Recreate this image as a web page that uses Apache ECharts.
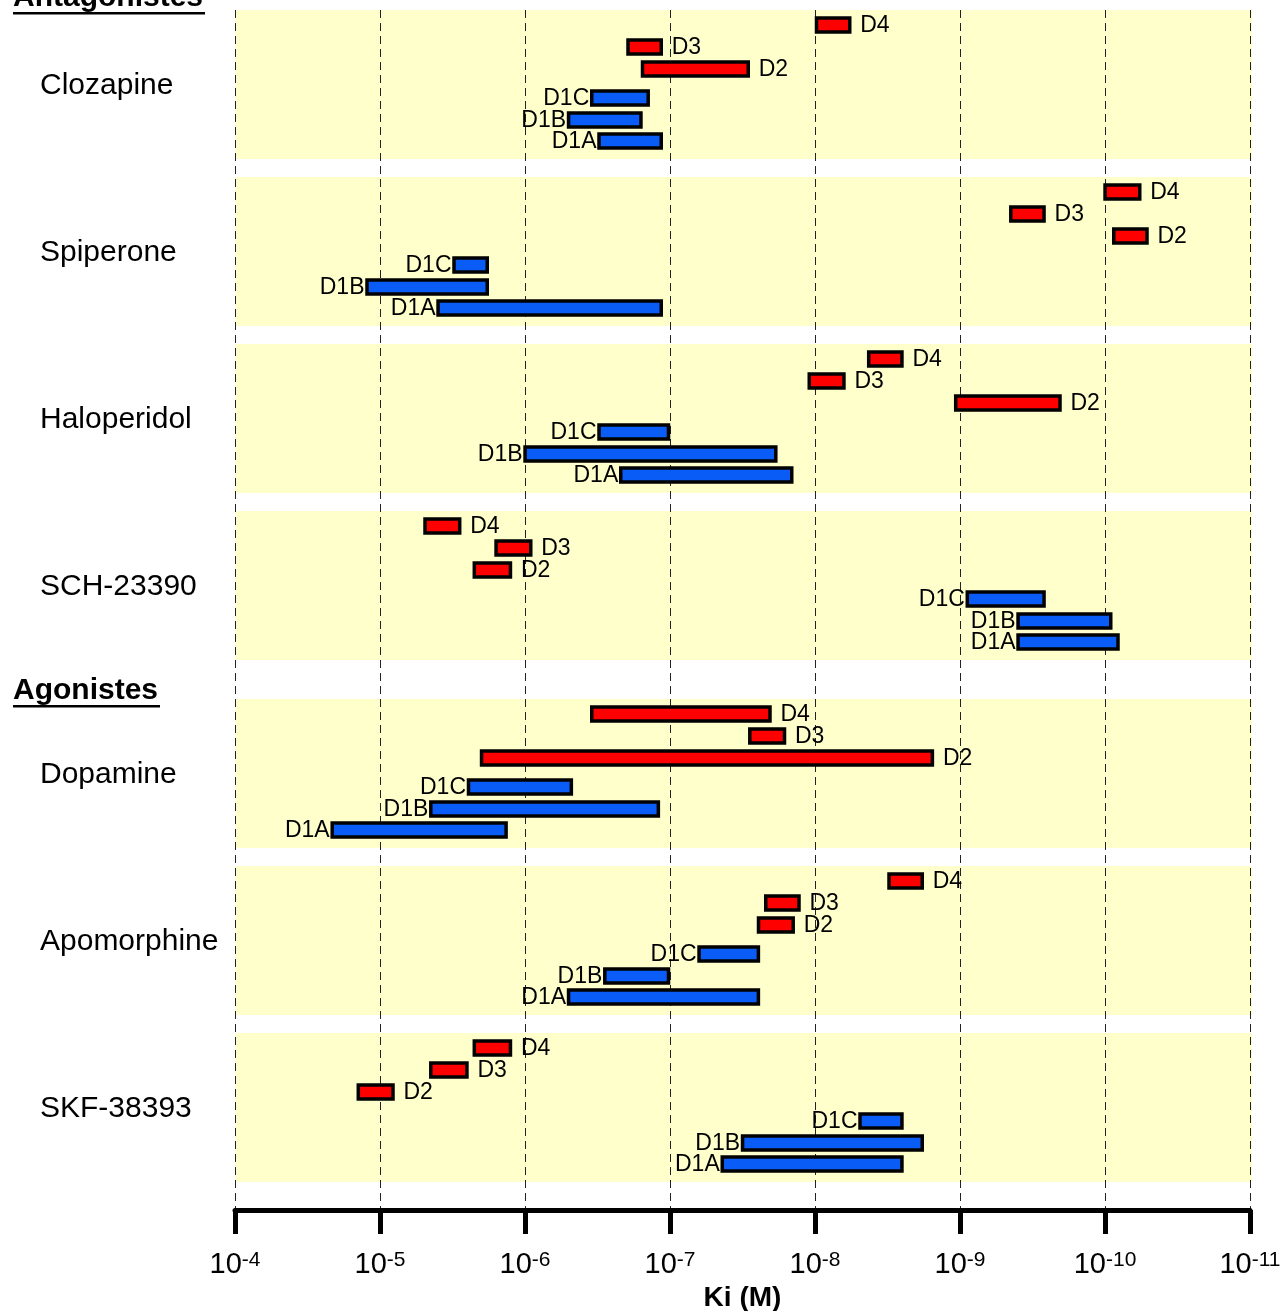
<!DOCTYPE html>
<html><head><meta charset="utf-8">
<script src="https://cdn.jsdelivr.net/npm/echarts@6/dist/echarts.min.js"></script>
<style>html,body{margin:0;padding:0;background:#fff}#c{width:1285px;height:1311px}</style>
</head><body><div id="c"></div>
<script>
// ---- data ----
const receptors = ['D4', 'D3', 'D2', 'D1C', 'D1B', 'D1A'];
const drugs = ['Clozapine', 'Spiperone', 'Haloperidol', 'SCH-23390', 'Dopamine', 'Apomorphine', 'SKF-38393'];
const groupTitles = ['Antagonistes', 'Agonistes'];
const exponents = [4, 5, 6, 7, 8, 9, 10, 11];   // axis ticks: 10^-4 ... 10^-11 (M)
// Ki ranges as -log10(Ki), [low, high], receptor order D4, D3, D2, D1C, D1B, D1A
const clozapine   = [[8.00, 8.25], [6.70, 6.95], [6.80, 7.55], [6.45, 6.86], [6.29, 6.81], [6.50, 6.95]];
const spiperone   = [[9.99, 10.25], [9.34, 9.59], [10.05, 10.30], [5.50, 5.75], [4.90, 5.75], [5.39, 6.95]];
const haloperidol = [[8.36, 8.61], [7.95, 8.21], [8.96, 9.70], [6.50, 7.00], [5.99, 7.74], [6.65, 7.85]];
const sch23390    = [[5.30, 5.56], [5.79, 6.05], [5.64, 5.91], [9.04, 9.59], [9.39, 10.05], [9.39, 10.10]];
const dopamine    = [[6.45, 7.70], [7.54, 7.80], [5.69, 8.82], [5.60, 6.33], [5.34, 6.93], [4.66, 5.88]];
const apomorphine = [[8.50, 8.75], [7.65, 7.90], [7.60, 7.86], [7.19, 7.62], [6.54, 7.00], [6.29, 7.62]];
const skf38393    = [[5.64, 5.91], [5.34, 5.61], [4.84, 5.10], [8.30, 8.61], [7.49, 8.75], [7.35, 8.61]];
const drugRanges = [clozapine, spiperone, haloperidol, sch23390, dopamine, apomorphine, skf38393];

// ---- layout (vertical units of the hidden y axis) ----
const BAND_H = 149;
const ROW_OFF = [15, 37, 59, 88, 110, 131];
function bandTop(i) { return 10 + i * 167 + (i >= 4 ? 21 : 0); }

const FONT = 'Liberation Sans, Arial, Helvetica, sans-serif';
const RED = '#ff0000', BLUE = '#0a5cf6', BAND = '#ffffcc';

const bandData = drugs.map((d, i) => [exponents[0], exponents[exponents.length - 1], bandTop(i), bandTop(i) + BAND_H]);
const nameData = drugs.map((d, i) => [exponents[0], bandTop(i) + BAND_H / 2, i]);
const barData = [];
drugRanges.forEach((rows, i) => rows.forEach((r, j) => barData.push([r[0], r[1], bandTop(i) + ROW_OFF[j], j])));

const chart = echarts.init(document.getElementById('c'), null, { renderer: 'canvas' });
chart.setOption({
  animation: false,
  backgroundColor: '#fff',
  grid: { left: 235, right: 35, top: 10, bottom: 101, containLabel: false, outerBoundsMode: 'none' },
  xAxis: {
    type: 'value', min: exponents[0], max: exponents[exponents.length - 1], interval: 1,
    z: 2,
    axisLine: { show: true, lineStyle: { color: '#000', width: 5 } },
    axisTick: { show: true, length: 24, lineStyle: { color: '#000', width: 5 } },
    splitLine: { show: true, lineStyle: { color: '#222', width: 1, type: [8, 5] } },
    axisLabel: {
      margin: 40,
      formatter: v => '{b|10}{s|-' + v + '}',
      rich: {
        b: { fontFamily: FONT, fontSize: 29, color: '#000', lineHeight: 32, verticalAlign: 'top' },
        s: { fontFamily: FONT, fontSize: 21, color: '#000', lineHeight: 32, verticalAlign: 'top' }
      }
    },
    name: 'Ki (M)', nameLocation: 'middle', nameGap: 70,
    nameTextStyle: { fontFamily: FONT, fontSize: 28, fontWeight: 'bold', color: '#000' }
  },
  yAxis: { type: 'value', min: 10, max: 1210, inverse: true, show: false, splitLine: { show: false } },
  series: [
    {
      type: 'custom', z: 1, silent: true, clip: false,
      data: bandData,
      renderItem: (p, api) => {
        const a = api.coord([api.value(0), api.value(2)]);
        const b = api.coord([api.value(1), api.value(3)]);
        return { type: 'rect', shape: { x: a[0], y: a[1], width: b[0] - a[0] + 2, height: b[1] - a[1] }, style: { fill: BAND } };
      }
    },
    {
      type: 'custom', z: 4, silent: true, clip: false,
      data: barData,
      renderItem: (p, api) => {
        const lo = api.value(0), hi = api.value(1), y = api.value(2), j = api.value(3);
        const p1 = api.coord([lo, y]), p2 = api.coord([hi, y]);
        const red = j < 3, h = 14;
        return {
          type: 'group', children: [
            { type: 'rect', shape: { x: p1[0] + 1.5, y: p1[1] - h / 2, width: p2[0] - p1[0] - 3, height: h },
              style: { fill: red ? RED : BLUE, stroke: '#000', lineWidth: 3.5 } },
            { type: 'text', x: red ? p2[0] + 9 : p1[0] - 1, y: p1[1] + 1,
              style: { text: receptors[j], fontFamily: FONT, fontSize: 23, fill: '#000',
                       align: red ? 'left' : 'right', verticalAlign: 'middle' } }
          ]
        };
      }
    },
    {
      type: 'custom', z: 4, silent: true, clip: false,
      data: nameData,
      renderItem: (p, api) => {
        const c = api.coord([api.value(0), api.value(1)]);
        return { type: 'text', x: c[0] - 195, y: c[1] + 1,
                 style: { text: drugs[api.value(2)], fontFamily: FONT, fontSize: 30, fill: '#000',
                          align: 'left', verticalAlign: 'middle' } };
      }
    }
  ],
  graphic: [
    { type: 'text', left: 13, top: -17, style: { text: groupTitles[0], fontFamily: FONT, fontSize: 30, fontWeight: 'bold', fill: '#000' } },
    { type: 'rect', shape: { x: 13, y: 12, width: 192, height: 2.5 }, style: { fill: '#000' } },
    { type: 'text', left: 13, top: 676, style: { text: groupTitles[1], fontFamily: FONT, fontSize: 30, fontWeight: 'bold', fill: '#000' } },
    { type: 'rect', shape: { x: 13, y: 705, width: 147, height: 2.5 }, style: { fill: '#000' } }
  ]
});
</script>
</body></html>
